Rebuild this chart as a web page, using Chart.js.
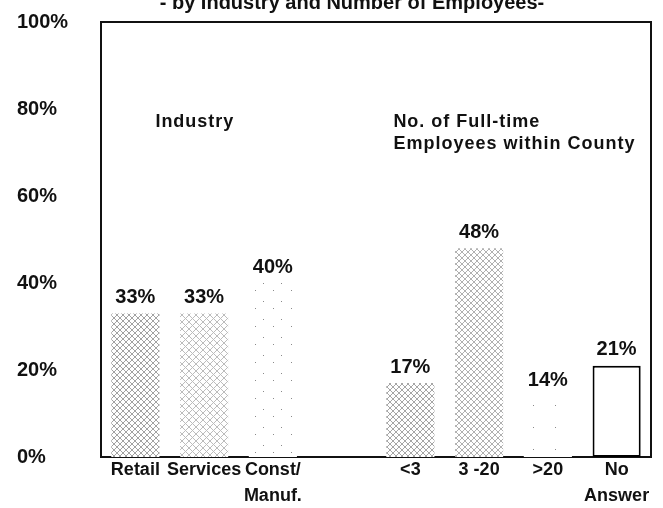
<!DOCTYPE html>
<html>
<head>
<meta charset="utf-8">
<script src="https://cdn.jsdelivr.net/npm/chart.js@4.4.1/dist/chart.umd.min.js"></script>
<style>
  html, body { margin: 0; padding: 0; background: #fff; }
  #wrap { width: 663px; height: 508px; position: relative; }
</style>
</head>
<body>
<div id="wrap"><canvas id="myChart" width="663" height="508"></canvas></div>
<script>
// categories (one empty slot separates the two groups)
var categories = ["Retail", "Services", ["Const/", "Manuf."], "", "<3", "3 -20", ">20", ["No", "Answer"]];
var shares = [33, 33, 40, null, 17, 48, 14, 21];
var yTicks = [0, 20, 40, 60, 80, 100];
var chartTitle = "- by Industry and Number of Employees-";

var FONT = "'Liberation Sans', Arial, sans-serif";

// cross-hatched dot screen: small x marks on a tile
function hatch(color, size){
    var c = document.createElement("canvas");
    c.width = size; c.height = size;
    var g = c.getContext("2d");
    g.fillStyle = "#fff";
    g.fillRect(0, 0, size, size);
    g.fillStyle = color;
    for(var i = 0; i < size; i++){
        g.fillRect(i, i, 1, 1);
        g.fillRect(size - 1 - i, i, 1, 1);
    }
    return g.createPattern(c, "repeat");
}

// nearly empty fill: a few loose specks
function specks(points, size){
    var c = document.createElement("canvas");
    c.width = size; c.height = size;
    var g = c.getContext("2d");
    g.fillStyle = "#fff";
    g.fillRect(0, 0, size, size);
    g.fillStyle = "#8a8a8a";
    points.forEach(function(p){ g.fillRect(p[0], p[1], 1, 1); });
    return g.createPattern(c, "repeat");
}

var fills = [
    hatch("#a2a2a2", 6),
    hatch("#bcbcbc", 7),
    specks([[3, 2], [11, 13]], 18),
    "#fff",
    hatch("#a6a6a6", 6),
    hatch("#b0b0b0", 6),
    specks([[5, 9]], 22),
    "#fff"
];
var borders = ["#fff", "#fff", "#fff", "#fff", "#fff", "#fff", "#fff", "#000"];
var borderWidths = [0, 0, 0, 0, 0, 0, 0, 2];

// frame round the plot area, title strip and text notes
var framePlugin = {
    id: "frame",
    beforeDatasetsDraw: function(chart){
        var a = chart.chartArea, ctx = chart.ctx;
        ctx.save();
        ctx.strokeStyle = "#111";
        ctx.lineWidth = 2;
        ctx.strokeRect(a.left, a.top, a.right - a.left, a.bottom - a.top);
        ctx.restore();
    },
    afterDraw: function(chart){
        var ctx = chart.ctx;
        var x = chart.scales.x, y = chart.scales.y;
        ctx.save();
        ctx.fillStyle = "#111";
        ctx.font = "bold 20px " + FONT;
        ctx.textAlign = "center";
        ctx.textBaseline = "alphabetic";
        ctx.fillText(chartTitle, 352, 9);

        ctx.font = "bold 18px " + FONT;
        ctx.letterSpacing = "1px";
        ctx.textAlign = "left";
        ctx.textBaseline = "middle";
        ctx.fillText("Industry", x.getPixelForValue(0) + 20, y.getPixelForValue(77));
        ctx.fillText("No. of Full-time", x.getPixelForValue(4) - 17, y.getPixelForValue(77));
        ctx.fillText("Employees within County", x.getPixelForValue(4) - 17, y.getPixelForValue(72));
        ctx.restore();
    }
};

// percentage above each bar
var valuePlugin = {
    id: "values",
    afterDatasetsDraw: function(chart){
        var ctx = chart.ctx;
        var meta = chart.getDatasetMeta(0);
        ctx.save();
        ctx.fillStyle = "#111";
        ctx.font = "bold 20px " + FONT;
        ctx.textAlign = "center";
        ctx.textBaseline = "bottom";
        meta.data.forEach(function(bar, i){
            if(shares[i] == null) return;
            ctx.fillText(shares[i] + "%", bar.x, bar.y - 6);
        });
        ctx.restore();
    }
};

var config = {
    type: "bar",
    data: {
        labels: categories,
        datasets: [{
            data: shares,
            backgroundColor: fills,
            borderColor: borders,
            borderWidth: borderWidths,
            borderSkipped: false,
            barPercentage: 0.7,
            categoryPercentage: 1.0
        }]
    },
    options: {
        responsive: false,
        animation: false,
        layout: { padding: { left: 17, top: 22, right: 12, bottom: 0 } },
        plugins: {
            legend: { display: false },
            tooltip: { enabled: false }
        },
        scales: {
            x: {
                grid: { display: false, drawTicks: false },
                border: { display: false },
                ticks: {
                    color: "#111",
                    padding: 0,
                    maxRotation: 0,
                    autoSkip: false,
                    font: { family: FONT, size: 18, weight: "bold", lineHeight: 1.45 }
                },
                afterFit: function(scale){ scale.height = 51; }
            },
            y: {
                min: 0,
                max: 100,
                afterBuildTicks: function(scale){
                    scale.ticks = yTicks.map(function(v){ return { value: v }; });
                },
                grid: { display: false, drawTicks: false },
                border: { display: false },
                ticks: {
                    color: "#111",
                    crossAlign: "far",
                    padding: 0,
                    font: { family: FONT, size: 20, weight: "bold" },
                    callback: function(v){ return v + "%"; }
                },
                afterFit: function(scale){ scale.width = 84; }
            }
        }
    },
    plugins: [framePlugin, valuePlugin]
};

var myChart = new Chart(document.getElementById("myChart").getContext("2d"), config);
</script>
</body>
</html>
